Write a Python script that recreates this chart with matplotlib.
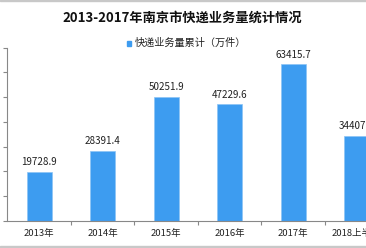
import matplotlib
matplotlib.use("Agg")
import matplotlib.pyplot as plt
from matplotlib.patches import Rectangle

plt.rcParams['font.family'] = ['Noto Sans CJK SC', 'DejaVu Sans']

categories = ['2013年', '2014年', '2015年', '2016年', '2017年', '2018上半年']
values = [19728.9, 28391.4, 50251.9, 47229.6, 63415.7, 34407.0]
value_labels = ['19728.9', '28391.4', '50251.9', '47229.6', '63415.7', '34407.0']
series_name = '快递业务量累计（万件）'
title = '2013-2017年南京市快递业务量统计情况'

W, H = 366, 248
fig = plt.figure(figsize=(W / 100, H / 100), dpi=100)
ax = fig.add_axes([7.5 / W, (H - 220.7) / H, 381 / W, 173 / H])

bar_color = '#3d9cf0'
x = list(range(len(categories)))
ax.bar(x, values, width=0.4, color=bar_color, edgecolor='#8cc4f5', linewidth=0.5)

for xi, v, lab in zip(x, values, value_labels):
    ax.text(xi, v + 1800, lab, ha='center', va='bottom', fontsize=7.1, color='#222222')

ax.set_xlim(-0.5, len(categories) - 0.5)
ax.set_ylim(0, 70000)
ax.set_yticks(range(0, 70001, 10000))
ax.set_yticklabels([])
ax.set_xticks([i + 0.5 for i in x[:-1]])
ax.set_xticklabels([])
ax.set_xticks(x, minor=True)
ax.set_xticklabels(categories, minor=True, fontsize=6.8, color='#222222')
ax.tick_params(axis='x', which='minor', length=0, pad=6)
ax.tick_params(axis='x', which='major', length=3, color='#888888', direction='out')
ax.tick_params(axis='y', length=3, color='#888888', direction='out')
for s in ['top', 'right']:
    ax.spines[s].set_visible(False)
for s in ['left', 'bottom']:
    ax.spines[s].set_color('#888888')
    ax.spines[s].set_linewidth(0.8)

fig.text(182.5 / W, 1 - 18 / H, title, ha='center', va='center', fontsize=9.5,
         fontweight='bold', color='#111111')

# legend
fig.patches.append(Rectangle((126.5 / W, 1 - 45.5 / H), 4.5 / W, 4.5 / H,
                             transform=fig.transFigure, color=bar_color))
fig.text(134.5 / W, 1 - 42.5 / H, series_name, ha='left', va='center', fontsize=7.3,
         color='#222222')

# border lines
fig.patches.append(Rectangle((0, 1 - 1.3 / H), 1, 1.3 / H, transform=fig.transFigure,
                             color='#c8c8c8'))
fig.patches.append(Rectangle((0, 0), 1, 2.2 / H, transform=fig.transFigure,
                             color='#c8c8c8'))

fig.savefig('out.png', dpi=100)
